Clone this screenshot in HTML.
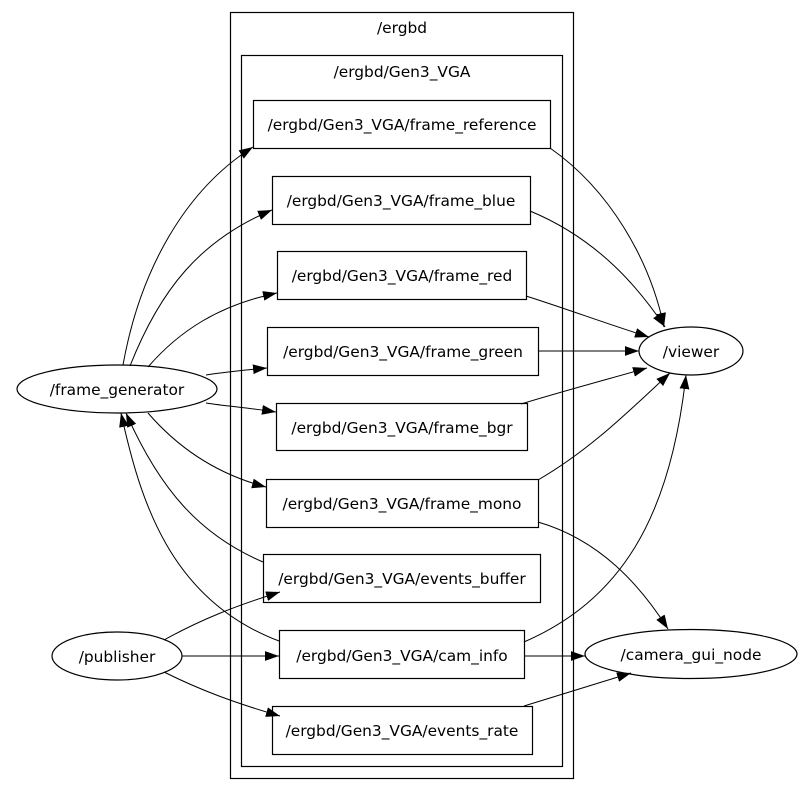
<!DOCTYPE html>
<html><head><meta charset="utf-8"><style>
html,body{margin:0;padding:0;background:#fff;}
svg{display:block;}
text{font-family:"DejaVu Sans","Liberation Sans",sans-serif;font-size:15.4px;fill:#000;}
</style></head><body>
<svg width="807" height="789" viewBox="0 0 807 789" xmlns="http://www.w3.org/2000/svg">
<defs>
<marker id="a" viewBox="0 0 10 10" refX="10" refY="5" markerWidth="14" markerHeight="14" markerUnits="userSpaceOnUse" orient="auto">
<path d="M0,1.5 L10,5 L0,8.5 z" fill="#000"/>
</marker>
</defs>
<rect width="807" height="789" fill="#fff"/>
<g fill="none" stroke="#000" stroke-width="1.2">
<rect x="230.5" y="12.5" width="343" height="766"/>
<rect x="241.5" y="55.5" width="321" height="711"/>
<rect x="253.5" y="100.5" width="297" height="48"/>
<rect x="272.5" y="176.5" width="258" height="48"/>
<rect x="277.5" y="251.5" width="249" height="48"/>
<rect x="267.5" y="327.5" width="271" height="48"/>
<rect x="276.5" y="403.5" width="251" height="47"/>
<rect x="266.5" y="479.5" width="272" height="48"/>
<rect x="263.5" y="554.5" width="277" height="48"/>
<rect x="279.5" y="630.5" width="245" height="48"/>
<rect x="272.5" y="706.5" width="260" height="48"/>
<ellipse cx="117" cy="389" rx="100" ry="24"/>
<ellipse cx="691" cy="351" rx="52" ry="24"/>
<ellipse cx="117" cy="656" rx="65" ry="24"/>
<ellipse cx="691" cy="654" rx="106" ry="24.5"/>
</g>
<g fill="none" stroke="#000" stroke-width="1" marker-end="url(#a)">
<path d="M123,365 C140,270 185,190 253,147"/>
<path d="M130,366 C160,290 200,240 272,210"/>
<path d="M148,367 C180,330 220,305 277,293"/>
<path d="M206,375 C225,372 245,370 267,368"/>
<path d="M206,403 C225,406 250,408 276,412"/>
<path d="M148,413 C180,450 220,475 266,487"/>
<path d="M263,562 C200,535 160,490 126,413"/>
<path d="M279,641 C170,600 140,500 121,413"/>
<path d="M164,640 C200,620 235,606 280,592"/>
<path d="M182,656 L279,656"/>
<path d="M164,672 C200,690 235,703 280,716"/>
<path d="M550,148 C610,190 650,260 664,327"/>
<path d="M530,211 C600,240 640,290 665,327"/>
<path d="M526,296 C570,310 610,325 649,337"/>
<path d="M538,351 L639,351"/>
<path d="M521,404 C560,392 605,380 647,368"/>
<path d="M538,480 C590,450 630,410 670,373"/>
<path d="M524,642 C620,600 670,520 686,375"/>
<path d="M538,522 C600,540 640,585 668,629"/>
<path d="M524,656 L585,656"/>
<path d="M524,706 C560,695 595,684 631,673"/>
</g>
<g text-anchor="middle">
<text x="402" y="33">/ergbd</text>
<text x="402" y="77">/ergbd/Gen3_VGA</text>
<text x="402" y="130">/ergbd/Gen3_VGA/frame_reference</text>
<text x="401" y="206">/ergbd/Gen3_VGA/frame_blue</text>
<text x="402" y="281">/ergbd/Gen3_VGA/frame_red</text>
<text x="403" y="357">/ergbd/Gen3_VGA/frame_green</text>
<text x="402" y="433">/ergbd/Gen3_VGA/frame_bgr</text>
<text x="402" y="509">/ergbd/Gen3_VGA/frame_mono</text>
<text x="402" y="584">/ergbd/Gen3_VGA/events_buffer</text>
<text x="402" y="661">/ergbd/Gen3_VGA/cam_info</text>
<text x="402" y="736">/ergbd/Gen3_VGA/events_rate</text>
<text x="117" y="395">/frame_generator</text>
<text x="691" y="357">/viewer</text>
<text x="117" y="662">/publisher</text>
<text x="691" y="660">/camera_gui_node</text>
</g>
</svg>
</body></html>
